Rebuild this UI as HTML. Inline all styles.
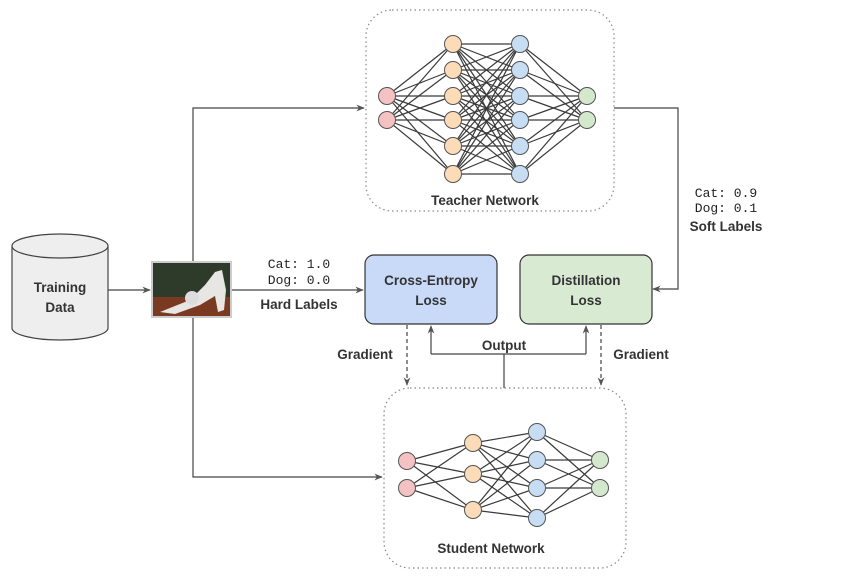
<!DOCTYPE html>
<html><head><meta charset="utf-8"><style>
html,body{margin:0;padding:0;background:#fff;}
svg{display:block;}
text{font-family:"Liberation Sans",sans-serif;font-weight:bold;fill:#333;font-size:13.5px;}
.m{font-family:"Liberation Mono",monospace;font-weight:normal;fill:#222;font-size:13px;}
</style></head><body>
<svg id="s" width="845" height="577" viewBox="0 0 845 577" xmlns="http://www.w3.org/2000/svg">
<defs>
<marker id="a" viewBox="0 0 10 10" refX="9" refY="5" markerWidth="7" markerHeight="7" orient="auto"><path d="M0,1 L10,5 L0,9 L3,5 z" fill="#555"/></marker>
</defs>
<rect x="366" y="10" width="248" height="201" rx="26" fill="none" stroke="#888" stroke-width="1.2" stroke-dasharray="1.5,3"/>
<rect x="384" y="388" width="242" height="180" rx="26" fill="none" stroke="#888" stroke-width="1.2" stroke-dasharray="1.5,3"/>
<g id="net" stroke="#3a3a3a" stroke-width="1.2"></g>
<g id="nodes" stroke="#555" stroke-width="1"></g>
<text x="485" y="205" text-anchor="middle" font-size="14">Teacher Network</text>
<text x="491" y="553" text-anchor="middle" font-size="14">Student Network</text>
<path d="M12,246 L12,328 A48,12 0 0 0 108,328 L108,246" fill="#eee" stroke="#444" stroke-width="1.2"/>
<ellipse cx="60" cy="246" rx="48" ry="12" fill="#eee" stroke="#444" stroke-width="1.2"/>
<text x="60" y="292" text-anchor="middle" font-size="16">Training</text>
<text x="60" y="312" text-anchor="middle" font-size="16">Data</text>
<g stroke="#444" stroke-width="1.2" fill="none">
<line x1="108" y1="290" x2="150" y2="290" marker-end="url(#a)"/>
<polyline points="193,261 193,108 364,108" marker-end="url(#a)"/>
<polyline points="193,318 193,477 382,477" marker-end="url(#a)"/>
<line x1="232" y1="290" x2="363" y2="290" marker-end="url(#a)"/>
<polyline points="614,108 678,108 678,289 653,289" marker-end="url(#a)"/>
<polyline points="504,388 504,354"/>
<polyline points="431,354 586,354"/>
<line x1="431" y1="354" x2="431" y2="326" marker-end="url(#a)"/>
<line x1="586" y1="354" x2="586" y2="326" marker-end="url(#a)"/>
<line x1="407" y1="325" x2="407" y2="385" stroke-dasharray="4,3" marker-end="url(#a)"/>
<line x1="601" y1="325" x2="601" y2="385" stroke-dasharray="4,3" marker-end="url(#a)"/>
</g>
<rect x="151" y="261" width="81" height="57" fill="#ccc"/>
<rect x="153" y="263" width="77" height="53" fill="#2f3b2a"/>
<rect x="153" y="297" width="77" height="19" fill="#7a3a22"/>
<path d="M160,312 L190,300 L205,285 L215,272 L222,270 L226,290 L224,310 L218,312 L215,296 L200,305 L175,314 z" fill="#e8e6e2"/>
<circle cx="192" cy="298" r="7" fill="#ddd"/>
<rect x="365" y="255" width="132" height="69" rx="9" fill="#c9daf8" stroke="#333" stroke-width="1.2"/>
<text x="431" y="285" text-anchor="middle" font-size="15.5">Cross-Entropy</text>
<text x="431" y="305" text-anchor="middle" font-size="15.5">Loss</text>
<rect x="520" y="255" width="132" height="69" rx="9" fill="#d9ead3" stroke="#333" stroke-width="1.2"/>
<text x="586" y="285" text-anchor="middle" font-size="15.5">Distillation</text>
<text x="586" y="305" text-anchor="middle" font-size="15.5">Loss</text>
<text class="m" x="299" y="268" text-anchor="middle">Cat: 1.0</text>
<text class="m" x="299" y="284" text-anchor="middle">Dog: 0.0</text>
<text x="299" y="309" text-anchor="middle" font-size="14">Hard Labels</text>
<text class="m" x="726" y="197" text-anchor="middle">Cat: 0.9</text>
<text class="m" x="726" y="212" text-anchor="middle">Dog: 0.1</text>
<text x="726" y="231" text-anchor="middle" font-size="14">Soft Labels</text>
<text x="365" y="359" text-anchor="middle">Gradient</text>
<text x="641" y="359" text-anchor="middle">Gradient</text>
<text x="504" y="350" text-anchor="middle">Output</text>
</svg>
<script>
(function(){
var NS="http://www.w3.org/2000/svg";
var net=document.getElementById('net'),nodes=document.getElementById('nodes');
var cols={in:'#f4c2c2',h1:'#fcdcb8',h2:'#c6ddf3',out:'#d3e8cc'};
function draw(layers){
  for(var i=0;i<layers.length-1;i++){
    var A=layers[i],B=layers[i+1];
    A.ys.forEach(function(y1){B.ys.forEach(function(y2){
      var l=document.createElementNS(NS,'line');
      l.setAttribute('x1',A.x);l.setAttribute('y1',y1);l.setAttribute('x2',B.x);l.setAttribute('y2',y2);
      net.appendChild(l);});});
  }
  layers.forEach(function(L){L.ys.forEach(function(y){
    var c=document.createElementNS(NS,'circle');
    c.setAttribute('cx',L.x);c.setAttribute('cy',y);c.setAttribute('r',8.5);c.setAttribute('fill',L.c);
    nodes.appendChild(c);});});
}
var t=[44,70,96,120,146,174];
draw([{x:387,ys:[96,120],c:cols.in},{x:453,ys:t,c:cols.h1},{x:520,ys:t,c:cols.h2},{x:587,ys:[96,120],c:cols.out}]);
draw([{x:407,ys:[461,488],c:cols.in},{x:473,ys:[443,474,510],c:cols.h1},{x:537,ys:[432,460,488,518],c:cols.h2},{x:600,ys:[460,488],c:cols.out}]);
})();
</script>
</body></html>
